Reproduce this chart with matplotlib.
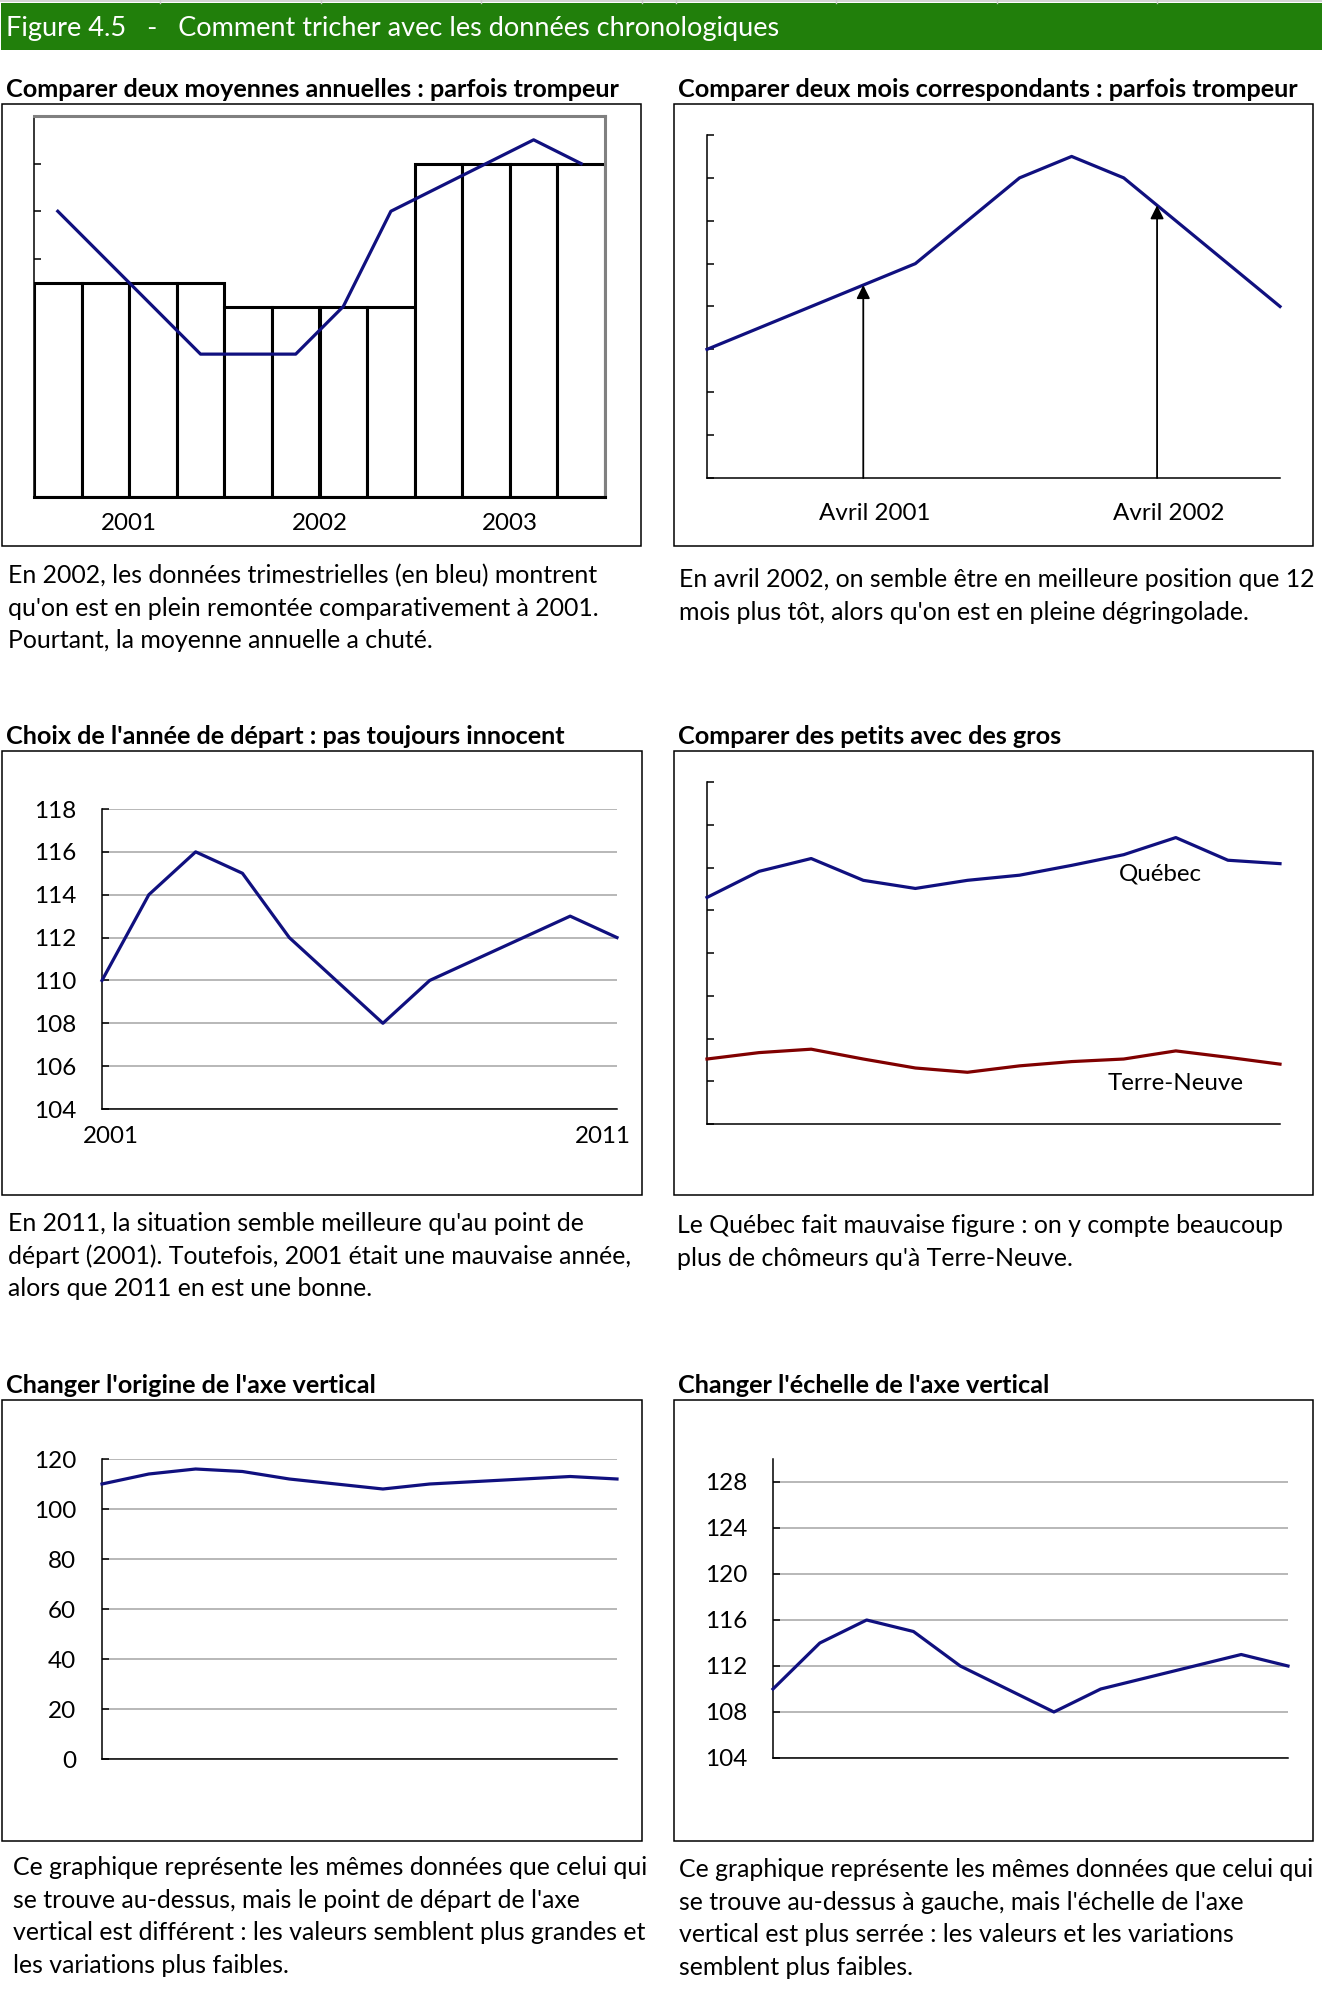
import numpy as np
import matplotlib
matplotlib.use('Agg')
import matplotlib.pyplot as plt
from matplotlib.patches import Rectangle
from matplotlib.lines import Line2D

plt.rcParams['font.family'] = ['Lato', 'DejaVu Sans']

# ---- data -------------------------------------------------------------
# panel 1 : quarterly series and its annual means
years_avg = ['2001', '2002', '2003']
annual_avg = [4.5, 4.0, 7.0]
quarterly = [6, 5, 4, 3, 3, 3, 4, 6, 6.5, 7, 7.5, 7]

# panel 2 : monthly series, two "april" markers
monthly = [3, 3.5, 4, 4.5, 5, 6, 7, 7.5, 7, 6, 5, 4]
april_pos = [3, 8.64]
april_labels = ['Avril 2001', 'Avril 2002']

# panels 3, 5, 6 : same index series
index_values = [110, 114, 116, 115, 112, 110, 108, 110, 111, 112, 113, 112]
start_end_labels = ['2001', '2011']

# panel 4 : big vs small
quebec = [5.30, 5.91, 6.21, 5.70, 5.51, 5.70, 5.82, 6.05, 6.30, 6.70, 6.17, 6.09]
terre_neuve = [1.52, 1.67, 1.75, 1.52, 1.31, 1.21, 1.36, 1.46, 1.52, 1.71, 1.56, 1.40]

header = 'Figure 4.5   -   Comment tricher avec les données chronologiques'
titles = ["Comparer deux moyennes annuelles : parfois trompeur",
          "Comparer deux mois correspondants : parfois trompeur",
          "Choix de l'année de départ : pas toujours innocent",
          "Comparer des petits avec des gros",
          "Changer l'origine de l'axe vertical",
          "Changer l'échelle de l'axe vertical"]
captions = [["En 2002, les données trimestrielles (en bleu) montrent",
             "qu'on est en plein remontée comparativement à 2001.",
             "Pourtant, la moyenne annuelle a chuté."],
            ["En avril 2002, on semble être en meilleure position que 12",
             "mois plus tôt, alors qu'on est en pleine dégringolade."],
            ["En 2011, la situation semble meilleure qu'au point de",
             "départ (2001). Toutefois, 2001 était une mauvaise année,",
             "alors que 2011 en est une bonne."],
            ["Le Québec fait mauvaise figure : on y compte beaucoup",
             "plus de chômeurs qu'à Terre-Neuve."],
            ["Ce graphique représente les mêmes données que celui qui",
             "se trouve au-dessus, mais le point de départ de l'axe",
             "vertical est différent : les valeurs semblent plus grandes et",
             "les variations plus faibles."],
            ["Ce graphique représente les mêmes données que celui qui",
             "se trouve au-dessus à gauche, mais l'échelle de l'axe",
             "vertical est plus serrée : les valeurs et les variations",
             "semblent plus faibles."]]

# ---- style ------------------------------------------------------------
W, H = 1322, 1996
NAVY = '#10107F'
DRED = '#800000'
GRID = '#ABABAB'
GREEN = '#217F0B'
FS_HEAD = 19.5
FS_TXT = 17.9
FS_TITLE = 18.2
FS_TICK = 17.5
FS_LAB = 17.4


def rect(x0, y0, x1, y1):
    # pixel box (top-left origin) -> figure fraction
    return [x0 / W, 1 - y1 / H, (x1 - x0) / W, (y1 - y0) / H]


def frame(fig, x0, y0, x1, y1, **kw):
    r = Rectangle((x0 / W, 1 - y1 / H), (x1 - x0) / W, (y1 - y0) / H,
                  transform=fig.transFigure, **kw)
    fig.add_artist(r)


def ftext(fig, x, y, s, **kw):
    fig.text(x / W, 1 - y / H, s, **kw)


def plain_axes(ax):
    ax.spines['top'].set_visible(False)
    ax.spines['right'].set_visible(False)
    ax.spines['left'].set_linewidth(1.1)
    ax.spines['bottom'].set_linewidth(1.1)
    ax.set_xticks([])
    ax.tick_params(axis='y', direction='in', length=5, width=1.1,
                   pad=18.5, labelsize=FS_TICK)


fig = plt.figure(figsize=(W / 100, H / 100), dpi=100)

# header band
frame(fig, 1, 3, W + 2, 50, facecolor=GREEN, edgecolor='none')
fig.add_artist(Line2D([0, 1], [1 - 1 / H, 1 - 1 / H], transform=fig.transFigure,
                      color='#D4D4D4', lw=1.5))
for xs in [160, 321, 481, 642, 676, 836, 997, 1157]:
    fig.add_artist(Line2D([xs / W, xs / W], [1 - 3 / H, 1], transform=fig.transFigure,
                          color='#C8C8C8', lw=1))
ftext(fig, 6, 36, header, color='white', fontsize=FS_HEAD, va='baseline')

# panel frames, titles and captions
boxes = [(2, 104, 641, 546), (674, 104, 1313, 546),
         (2, 751, 642, 1195), (674, 751, 1313, 1195),
         (2, 1400, 642, 1841), (674, 1400, 1313, 1841)]
title_pos = [(6, 97), (678, 97), (6, 744), (678, 744), (6, 1393), (678, 1393)]
cap_pos = [(8, 583), (679, 587), (8, 1231), (677, 1233), (13, 1875), (679, 1877)]
for b, tp, cp, t, cap in zip(boxes, title_pos, cap_pos, titles, captions):
    frame(fig, *b, fill=False, edgecolor='black', lw=1.1)
    ftext(fig, tp[0], tp[1], t, fontsize=FS_TITLE, fontweight='bold', va='baseline')
    for i, line in enumerate(cap):
        ftext(fig, cp[0], cp[1] + 32.7 * i, line, fontsize=FS_TXT, va='baseline')

# ---- panel 1 : annual means vs quarters ---------------------------------
ax1 = fig.add_axes(rect(34, 116, 605, 497))
xq = np.arange(len(quarterly))
ax1.bar(xq, np.repeat(annual_avg, 4), width=1.0, color='white',
        edgecolor='black', lw=2.2, zorder=2)
ax1.plot(xq, quarterly, color=NAVY, lw=2.3, zorder=3)
ax1.set_xlim(-0.5, 11.5)
ax1.set_ylim(0, 8)
for s in ['top', 'right']:
    ax1.spines[s].set_color('#808080')
    ax1.spines[s].set_linewidth(2.2)
ax1.spines['left'].set_linewidth(1.1)
ax1.spines['bottom'].set_linewidth(2.2)
ax1.set_xticks([])
ax1.set_yticks(range(9))
ax1.tick_params(axis='y', direction='in', length=5, width=1.1, labelleft=False)
for i, yr in enumerate(years_avg):
    ax1.text(4 * i + 1.5, -0.55, yr, ha='center', va='center', fontsize=FS_LAB)

# ---- panel 2 : corresponding months -------------------------------------
ax2 = fig.add_axes(rect(707, 135, 1280, 478))
xm = np.arange(len(monthly))
ax2.plot(xm, monthly, color=NAVY, lw=2.3, clip_on=False, zorder=3)
ax2.set_xlim(0, 11)
ax2.set_ylim(0, 8)
plain_axes(ax2)
ax2.set_yticks(range(9))
ax2.tick_params(axis='y', labelleft=False)
for p, lab in zip(april_pos, april_labels):
    ytip = np.interp(p, xm, monthly)
    ax2.annotate('', xy=(p, ytip), xytext=(p, 0),
                 arrowprops=dict(arrowstyle='-|>', color='black', lw=1.3,
                                 mutation_scale=20, shrinkA=0, shrinkB=0))
    ax2.text(p + 0.22, -0.82, lab, ha='center', va='center', fontsize=FS_LAB)

# ---- panel 3 : starting year --------------------------------------------
xi = np.arange(len(index_values))
ax3 = fig.add_axes(rect(102, 809, 617, 1109))
ax3.plot(xi, index_values, color=NAVY, lw=2.3, clip_on=False, zorder=3)
ax3.set_xlim(0, 11)
ax3.set_ylim(104, 118)
plain_axes(ax3)
ax3.set_yticks(range(104, 119, 2))
ax3.grid(axis='y', color=GRID, lw=1.2)
ax3.set_axisbelow(True)
ax3.text(0.19, 102.7, start_end_labels[0], ha='center', va='center', fontsize=FS_LAB)
ax3.text(10.7, 102.7, start_end_labels[1], ha='center', va='center', fontsize=FS_LAB)

# ---- panel 4 : Quebec vs Newfoundland -----------------------------------
ax4 = fig.add_axes(rect(707, 782, 1280, 1124))
xp = np.arange(len(quebec))
ax4.plot(xp, quebec, color=NAVY, lw=2.3, clip_on=False, zorder=3)
ax4.plot(xp, terre_neuve, color=DRED, lw=2.3, clip_on=False, zorder=3)
ax4.set_xlim(0, 11)
ax4.set_ylim(0, 8)
plain_axes(ax4)
ax4.set_yticks(range(9))
ax4.tick_params(axis='y', labelleft=False)
ax4.text(8.71, 5.85, 'Québec', ha='center', va='center', fontsize=FS_LAB)
ax4.text(9.0, 0.94, 'Terre-Neuve', ha='center', va='center', fontsize=FS_LAB)

# ---- panel 5 : origin of vertical axis ----------------------------------
ax5 = fig.add_axes(rect(102, 1459, 617, 1759))
ax5.plot(xi, index_values, color=NAVY, lw=2.3, clip_on=False, zorder=3)
ax5.set_xlim(0, 11)
ax5.set_ylim(0, 120)
plain_axes(ax5)
ax5.set_yticks(range(0, 121, 20))
ax5.grid(axis='y', color=GRID, lw=1.2)
ax5.set_axisbelow(True)

# ---- panel 6 : scale of vertical axis -----------------------------------
ax6 = fig.add_axes(rect(773, 1459, 1288, 1758))
ax6.plot(xi, index_values, color=NAVY, lw=2.3, clip_on=False, zorder=3)
ax6.set_xlim(0, 11)
ax6.set_ylim(104, 130)
plain_axes(ax6)
ax6.set_yticks(range(104, 129, 4))
ax6.grid(axis='y', color=GRID, lw=1.2)
ax6.set_axisbelow(True)

fig.savefig('out.png', dpi=100, facecolor='white')
